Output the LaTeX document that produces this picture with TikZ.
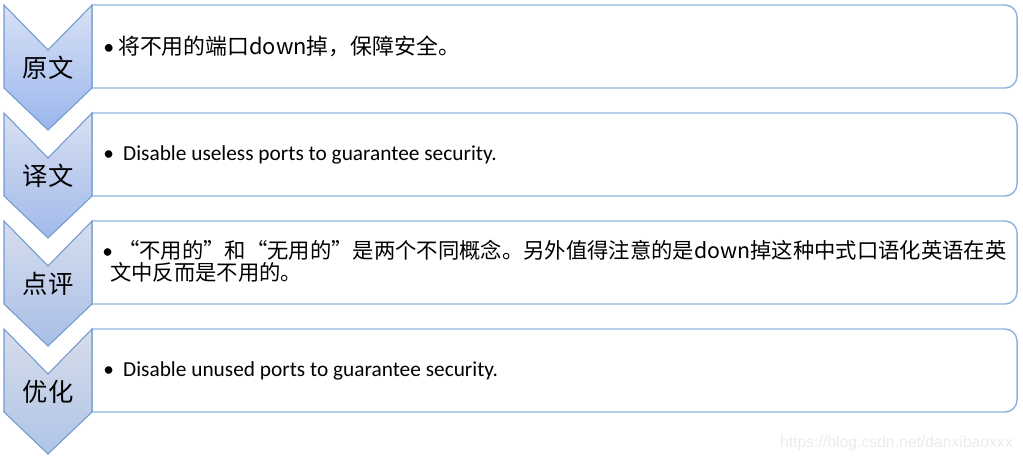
\documentclass[tikz,border=0pt]{standalone}
\usepackage{fontspec}
\setmainfont{Carlito}
\newfontfamily\cjk{Noto Sans CJK SC}
\newfontfamily\wmfont{Liberation Sans}

\definecolor{chevline}{RGB}{112,155,209}
\definecolor{boxline}{RGB}{141,180,226}

\tikzset{
  chev/.style={draw=chevline, line width=0.8pt, line join=miter},
  itembox/.style={draw=boxline, line width=1.1pt, fill=white},
  chevtext/.style={font=\cjk\fontsize{19}{23}\selectfont, inner sep=0pt},
  itemtext/.style={anchor=west, align=left, inner sep=0pt},
}

\begin{document}
\begin{tikzpicture}[x=0.75pt, y=-0.75pt]
\useasboundingbox (0,0) rectangle (1023,462);

\draw[itembox] (92,88) -- (92,5) [rounded corners=9pt] -- (1017,5) -- (1017,88) [sharp corners] -- (92,88) -- cycle;
\draw[itembox] (92,196) -- (92,113) [rounded corners=9pt] -- (1017,113) -- (1017,196) [sharp corners] -- (92,196) -- cycle;
\draw[itembox] (92,304) -- (92,221) [rounded corners=9pt] -- (1017,221) -- (1017,304) [sharp corners] -- (92,304) -- cycle;
\draw[itembox] (92,412) -- (92,329) [rounded corners=9pt] -- (1017,329) -- (1017,412) [sharp corners] -- (92,412) -- cycle;

\draw[chev, top color={rgb,255:red,216;green,225;blue,245}, bottom color={rgb,255:red,155;green,182;blue,237}]
  (4,5) -- (48,50) -- (92,5) -- (92,88) -- (48,130) -- (4,88) -- cycle;
\draw[chev, top color={rgb,255:red,216;green,224;blue,242}, bottom color={rgb,255:red,161;green,185;blue,233}]
  (4,113) -- (48,158) -- (92,113) -- (92,196) -- (48,238) -- (4,196) -- cycle;
\draw[chev, top color={rgb,255:red,215;green,222;blue,237}, bottom color={rgb,255:red,168;green,190;blue,231}]
  (4,221) -- (48,266) -- (92,221) -- (92,304) -- (48,346) -- (4,304) -- cycle;
\draw[chev, top color={rgb,255:red,214;green,221;blue,234}, bottom color={rgb,255:red,176;green,196;blue,231}]
  (4,329) -- (48,374) -- (92,329) -- (92,412) -- (48,454) -- (4,412) -- cycle;

\node[chevtext] (orig) at (48,68) {原文};
\node[chevtext] (trans) at (48,176) {译文};
\node[chevtext] (comment) at (48,284) {点评};
\node[chevtext] (better) at (48,392) {优化};

\node[itemtext, font=\cjk\fontsize{16.4}{19}\selectfont] (origtxt) at (103,46) {{\normalfont •}\hspace{3pt}将不用的端口down掉，保障安全。};
\node[itemtext, font=\fontsize{16}{19}\selectfont] (transtxt) at (103,155) {•\hspace{7pt}Disable useless ports to guarantee security.};
\node[itemtext, font=\cjk\fontsize{16}{16.5}\selectfont] (commenttxt) at (102,261)
  {{\normalfont •}\hspace{4pt}“不用的”和“无用的”是两个不同概念。另外值得注意的是down掉这种中式口语化英语在英\\\hspace{6pt}文中反而是不用的。};
\node[itemtext, font=\fontsize{16}{19}\selectfont] (bettertxt) at (103,371) {•\hspace{7pt}Disable unused ports to guarantee security.};

\node[anchor=east, inner sep=0pt, text=black!8, font=\wmfont\fontsize{11.8}{14}\selectfont] (mark) at (1013,443) {https://blog.csdn.net/danxibaoxxx};
\end{tikzpicture}
\end{document}
